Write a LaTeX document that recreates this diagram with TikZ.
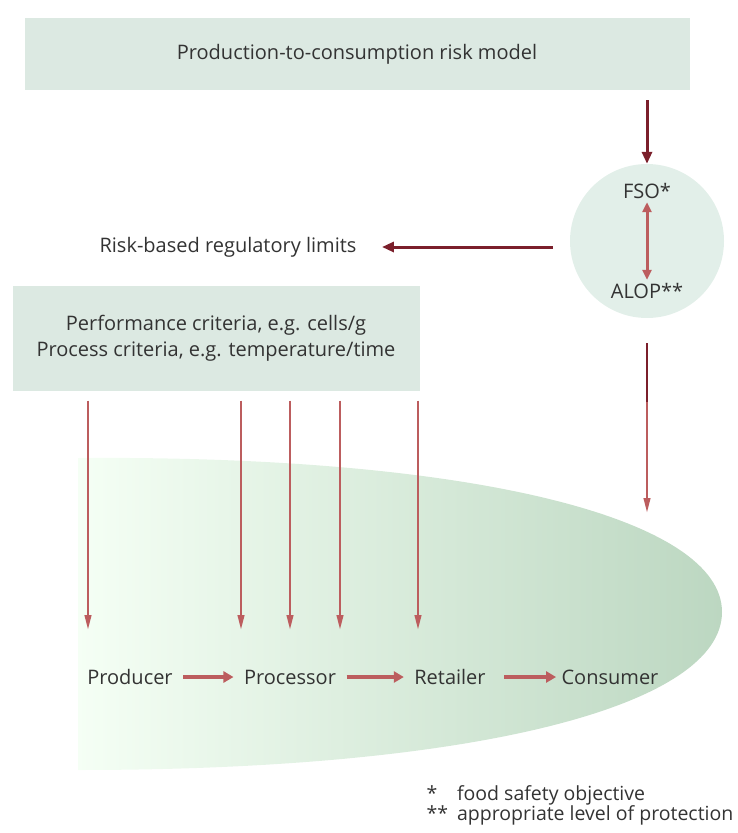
\documentclass[tikz,border=0pt]{standalone}
\usepackage{fontspec}
\setmainfont{Open Sans}
\usepackage{tikz}
\usetikzlibrary{arrows.meta}
\usetikzlibrary{positioning}
\definecolor{panelgreen}{HTML}{DCE9E2}
\definecolor{discgreen}{HTML}{E2EFE9}
\definecolor{darkred}{HTML}{7B1F2B}
\definecolor{salmon}{HTML}{BC5D5E}
\definecolor{inktext}{HTML}{333333}
\definecolor{pathgreen}{HTML}{BCD7C1}
\tikzset{
    panel/.style={fill=panelgreen, draw=none, text=inktext},
    label/.style={text=inktext},
    riskarrow/.style={draw=darkred, line width=3pt,
        -{Triangle[length=12pt,width=10pt]}},
    critarrow/.style={draw=salmon, line width=2.5pt,
        -{Triangle[length=15pt,width=6.5pt]}},
    chainarrow/.style={draw=salmon, line width=4.5pt,
        -{Triangle[length=10pt,width=11pt]}, shorten <=7pt, shorten >=7pt},
    linkarrow/.style={draw=salmon, line width=3pt,
        {Triangle[length=10pt,width=9pt]}-{Triangle[length=10pt,width=9pt]}},
}

\begin{document}
\begin{tikzpicture}[x=1pt, y=-1pt, font=\fontsize{20}{26}\selectfont]
	\useasboundingbox (0,0) rectangle (738,833);
	% pathway area
	\shade[left color=green!4!white, right color=pathgreen]
		(78,458) .. controls (480,455) and (722,520) .. (722,612)
		.. controls (722,705) and (480,770) .. (78,770) -- cycle;
	% boxes
	\node[panel, minimum width=665pt, minimum height=72pt] (model) at (357,54)
		{Production-to-consumption risk model};
	\node[panel, minimum width=407pt, minimum height=105pt, align=center] (crit) at (216,338)
		{Performance criteria, e.g. cells/g\\Process criteria, e.g. temperature/time};
	\node[circle, fill=discgreen, minimum size=154pt] (obj) at (647,241) {};
	\node[label] (fso) at (647,191) {FSO*};
	\node[label] (alop) at (647,291) {ALOP**};
	\node[label] (limits) at (228,247) {Risk-based regulatory limits};
	% chain
	\node[label] (prod) at (130,677) {Producer};
	\node[label] (proc) at (290,677) {Processor};
	\node[label] (ret) at (450,677) {Retailer};
	\node[label] (cons) at (610,677) {Consumer};
	\coordinate (pathtop) at (647,513);
	\foreach \x [count=\i] in {88,241,290,340,418}
		\coordinate (tip\i) at (\x,630);
	% arrows
	\draw[riskarrow, shorten <=10pt] (model.south -| obj.north) -- (obj.north);
	\draw[linkarrow] (fso.south) -- (alop.north);
	\draw[riskarrow, shorten <=17pt] (limits.east -| obj.west) -- ([xshift=22pt]limits.east);
	\draw[critarrow, shorten <=25pt] (obj.south) -- (pathtop);
	\draw[darkred, line width=2.5pt, shorten <=25pt] (obj.south) -- (647,402);
	\foreach \i in {1,...,5}
		\draw[critarrow, shorten <=10pt] (crit.south -| tip\i) -- (tip\i);
	\draw[chainarrow] (prod) -- (proc);
	\draw[chainarrow] (proc) -- (ret);
	\draw[chainarrow, shorten <=15pt, shorten >=2pt] (ret) -- (cons);
	% notes
	\node[label, anchor=west, font=\fontsize{19.5}{19}\selectfont] (notes) at (423,806)
		{\begin{tabular}{@{}l@{\hspace{9pt}}l@{}}*&food safety objective\\{}**&appropriate level of protection\end{tabular}};
\end{tikzpicture}
\end{document}
